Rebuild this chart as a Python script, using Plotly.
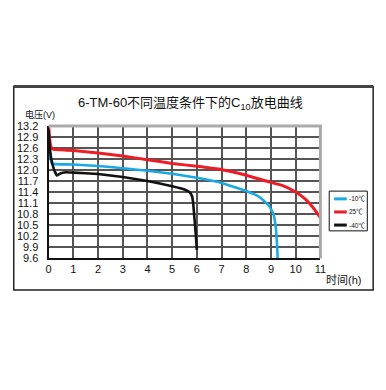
import plotly.graph_objects as go

# ---- data ----
t_25 = [0, 0.03, 0.07, 0.12, 0.2, 0.5, 1, 2, 3, 4, 5, 6, 7, 8, 8.8, 9.5, 10, 10.4, 10.7, 11]
v_25 = [13.2, 12.95, 12.7, 12.6, 12.56, 12.55, 12.53, 12.46, 12.38, 12.28, 12.18, 12.1, 12.01, 11.86, 11.7, 11.57, 11.4, 11.2, 10.98, 10.7]

t_m10 = [0, 0.03, 0.07, 0.13, 0.25, 1, 2, 3, 4, 5, 6, 7, 8, 8.5, 8.9, 9.1, 9.2, 9.25, 9.27]
v_m10 = [13.1, 12.7, 12.35, 12.18, 12.16, 12.15, 12.11, 12.05, 11.98, 11.9, 11.79, 11.65, 11.43, 11.28, 11.05, 10.8, 10.4, 9.9, 9.6]

t_m40 = [0, 0.05, 0.1, 0.2, 0.33, 0.45, 0.7, 1, 2, 3, 4, 5, 5.5, 5.7, 5.8, 5.85, 5.9, 5.95, 6.0]
v_m40 = [13.1, 12.6, 12.33, 12.05, 11.85, 11.9, 11.94, 11.93, 11.89, 11.81, 11.7, 11.56, 11.47, 11.4, 11.3, 11.1, 10.7, 10.3, 9.83]

x_ticks = list(range(0, 12))
y_ticks = [9.6, 9.9, 10.2, 10.5, 10.8, 11.1, 11.4, 11.7, 12.0, 12.3, 12.6, 12.9, 13.2]

series = [
    ("-10℃", t_m10, v_m10, "#19a9e6"),
    ("25℃", t_25, v_25, "#ee1c25"),
    ("-40℃", t_m40, v_m40, "#111111"),
]

W, H = 386, 390
FONT = "Liberation Sans, Arial, Noto Sans CJK SC"

fig = go.Figure()
for name, t, v, c in series:
    fig.add_trace(go.Scatter(x=t, y=v, mode="lines", name=name,
                             line=dict(color=c, width=3 if c == "#ee1c25" else 2.6, shape="spline", smoothing=0.3),
                             showlegend=False))

px = lambda x: x / W
py = lambda y: 1 - y / H

x0p, x1p = 46.7, 325.0
y0p, y1p = 260.3, 123.7

fig.update_layout(
    width=W, height=H, margin=dict(l=0, r=0, t=0, b=0),
    paper_bgcolor="white", plot_bgcolor="white",
    font=dict(family=FONT, color="#111"),
    xaxis=dict(domain=[px(x0p), px(x1p)], range=[0, 11], tickvals=x_ticks,
               showgrid=True, gridcolor="#555", gridwidth=1.5, zeroline=False,
               showline=True, linecolor="#111", linewidth=2, ticks="",
               tickfont=dict(size=11, color="#111"), fixedrange=True),
    yaxis=dict(domain=[py(y0p), py(y1p)], range=[9.6, 13.2], tickvals=y_ticks,
               ticktext=[f"{v:.1f}" for v in y_ticks], ticklabelstandoff=6,
               showgrid=True, gridcolor="#555", gridwidth=1.5, zeroline=False,
               showline=True, linecolor="#111", linewidth=2, ticks="",
               tickfont=dict(size=11, color="#111"), fixedrange=True),
)

shapes = []
# outer frame
shapes.append(dict(type="rect", xref="paper", yref="paper", x0=px(11), x1=px(379), y0=py(293), y1=py(83),
                   line=dict(color="#222", width=1.5)))
shapes.append(dict(type="line", xref="paper", yref="paper", x0=px(11), x1=px(379), y0=py(83), y1=py(83),
                   line=dict(color="#444", width=3)))
# gray top/right plot border
shapes.append(dict(type="line", xref="paper", yref="paper", x0=px(x0p), x1=px(x1p + 1.5), y0=py(y1p), y1=py(y1p),
                   line=dict(color="#aaaaaa", width=3)))
shapes.append(dict(type="line", xref="paper", yref="paper", x0=px(x1p), x1=px(x1p), y0=py(y1p), y1=py(y0p),
                   line=dict(color="#aaaaaa", width=3)))
# legend box
lx0, lx1, ly0, ly1 = 334, 373, 191, 232
shapes.append(dict(type="rect", xref="paper", yref="paper", x0=px(lx0), x1=px(lx1), y0=py(ly1), y1=py(ly0),
                   line=dict(color="#111", width=1), fillcolor="white"))
annotations = []
for i, (name, t, v, c) in enumerate(series):
    yy = 199 + i * 13.5
    shapes.append(dict(type="line", xref="paper", yref="paper", x0=px(339), x1=px(352), y0=py(yy), y1=py(yy),
                       line=dict(color=c, width=3)))
    annotations.append(dict(xref="paper", yref="paper", x=px(352), y=py(yy), text=name, showarrow=False,
                            xanchor="left", yanchor="middle", font=dict(size=6.5, color="#111")))

annotations += [
    dict(xref="paper", yref="paper", x=px(192), y=py(101), text="6-TM-60不同温度条件下的C<sub>10</sub>放电曲线",
         showarrow=False, xanchor="center", yanchor="middle", font=dict(size=13, color="#111")),
    dict(xref="paper", yref="paper", x=px(20), y=py(112), text="电压(V)", showarrow=False,
         xanchor="left", yanchor="middle", font=dict(size=9, color="#111")),
    dict(xref="paper", yref="paper", x=px(329), y=py(283), text="时间(h)", showarrow=False,
         xanchor="left", yanchor="middle", font=dict(size=11, color="#111")),
]
fig.update_layout(shapes=shapes, annotations=annotations)
fig.write_html("out.html")
